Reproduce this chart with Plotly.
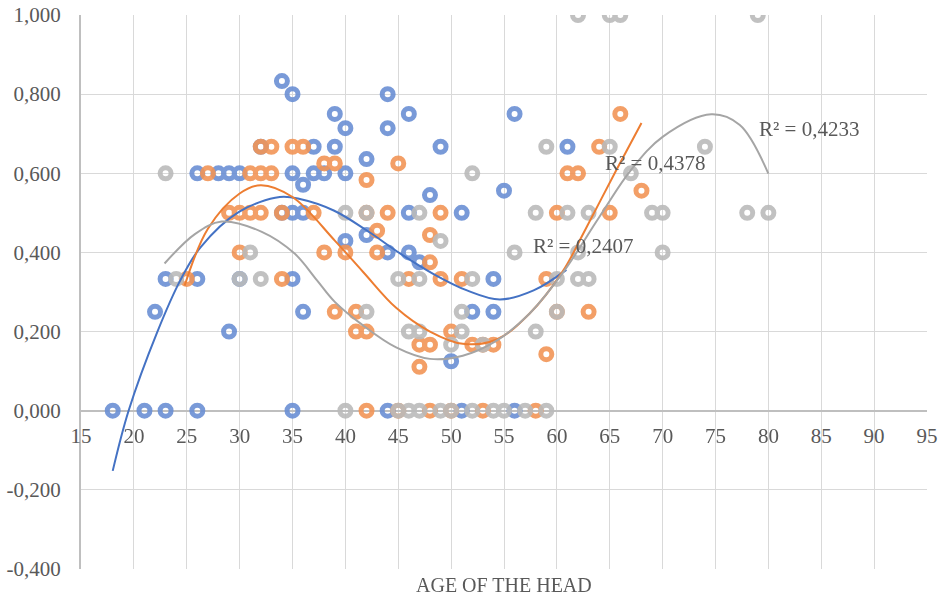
import plotly.graph_objects as go

# scatter data: age of the head vs share
blue_x = [18, 21, 23, 26, 35, 44, 51, 56,
          22, 29, 36, 52, 54, 50,
          23, 26, 30, 35, 54,
          40, 42, 44, 46, 47, 48, 55,
          34, 35, 36, 46, 51,
          36,
          26, 28, 29, 30, 35, 37, 38, 40,
          42,
          32, 37, 39, 49, 61,
          40, 44,
          39, 46, 56,
          35, 44,
          34]
blue_y = [0, 0, 0, 0, 0, 0, 0, 0,
          0.25, 0.2, 0.25, 0.25, 0.25, 0.125,
          0.333, 0.333, 0.333, 0.333, 0.333,
          0.429, 0.444, 0.4, 0.4, 0.375, 0.545, 0.556,
          0.5, 0.5, 0.5, 0.5, 0.5,
          0.571,
          0.6, 0.6, 0.6, 0.6, 0.6, 0.6, 0.6, 0.6,
          0.636,
          0.667, 0.667, 0.667, 0.667, 0.667,
          0.714, 0.714,
          0.75, 0.75, 0.75,
          0.8, 0.8,
          0.833]

orange_x = [42, 45, 48, 50, 53, 58,
            47, 59,
            47, 48, 52, 53, 54,
            41, 42, 50,
            39, 41, 60, 63,
            25, 34, 46, 49, 51, 59,
            48,
            30, 38, 40, 43,
            48, 43,
            29, 30, 31, 32, 34, 37, 42, 44, 49, 60, 65,
            68, 42,
            27, 31, 32, 33, 61, 62,
            38, 39, 45,
            32, 33, 35, 36, 64,
            66]
orange_y = [0, 0, 0, 0, 0, 0,
            0.111, 0.143,
            0.167, 0.167, 0.167, 0.167, 0.167,
            0.2, 0.2, 0.2,
            0.25, 0.25, 0.25, 0.25,
            0.333, 0.333, 0.333, 0.333, 0.333, 0.333,
            0.375,
            0.4, 0.4, 0.4, 0.4,
            0.444, 0.455,
            0.5, 0.5, 0.5, 0.5, 0.5, 0.5, 0.5, 0.5, 0.5, 0.5, 0.5,
            0.556, 0.583,
            0.6, 0.6, 0.6, 0.6, 0.6, 0.6,
            0.625, 0.625, 0.625,
            0.667, 0.667, 0.667, 0.667, 0.667,
            0.75]

gray_x = [40, 45, 46, 47, 49, 50, 52, 54, 55, 57, 59,
          50, 53,
          46, 47, 51, 58,
          42, 51, 60,
          24, 30, 32, 45, 47, 52, 60, 62, 63,
          31, 56, 62, 70,
          49,
          40, 42, 47, 58, 61, 63, 69, 70, 78, 80,
          23, 52, 67,
          59, 65, 74,
          62, 65, 66, 79]
gray_y = [0, 0, 0, 0, 0, 0, 0, 0, 0, 0, 0,
          0.167, 0.167,
          0.2, 0.2, 0.2, 0.2,
          0.25, 0.25, 0.25,
          0.333, 0.333, 0.333, 0.333, 0.333, 0.333, 0.333, 0.333, 0.333,
          0.4, 0.4, 0.4, 0.4,
          0.429,
          0.5, 0.5, 0.5, 0.5, 0.5, 0.5, 0.5, 0.5, 0.5, 0.5,
          0.6, 0.6, 0.6,
          0.667, 0.667, 0.667,
          1, 1, 1, 1]

# polynomial trendlines, points
blue_trend_x = [18, 19.5, 22.2, 24.4, 26.3, 29.9, 33.8, 35.7, 38.9, 42, 45.2, 48.3, 51.5, 54.6, 57.8, 60.9]
blue_trend_y = [-0.152, 0, 0.198, 0.33, 0.413, 0.502, 0.54, 0.535, 0.506, 0.456, 0.397, 0.346, 0.304, 0.281, 0.304, 0.356]

orange_trend_x = [24.8, 27, 30, 32, 35, 39, 41.7, 44.8, 48, 51.1, 54.3, 57.4, 60.6, 62.5, 65.6, 68]
orange_trend_y = [0.316, 0.46, 0.549, 0.57, 0.54, 0.43, 0.35, 0.26, 0.2, 0.169, 0.18, 0.245, 0.354, 0.448, 0.607, 0.727]

gray_trend_x = [22.9, 25.8, 28.3, 32.1, 35.2, 37.3, 39, 41.7, 44.8, 48, 51.1, 54.3, 57.4, 60.6, 64, 67, 70, 74.6, 77.3, 80]
gray_trend_y = [0.372, 0.447, 0.478, 0.452, 0.397, 0.33, 0.275, 0.215, 0.16, 0.131, 0.139, 0.177, 0.245, 0.35, 0.489, 0.608, 0.692, 0.749, 0.722, 0.599]

r2_labels = ["R² = 0,2407", "R² = 0,4378", "R² = 0,4233"]
r2_x = [62.45, 69.25, 83.86]
r2_y = [0.415, 0.625, 0.711]

y_ticks = [-0.4, -0.2, 0, 0.2, 0.4, 0.6, 0.8, 1.0]
y_ticktext = ["-0,400", "-0,200", "0,000", "0,200", "0,400", "0,600", "0,800", "1,000"]

FONT = "Liberation Serif"
TXT = "#595959"

series = [
    (blue_x, blue_y, "#6a8fd4"),
    (orange_x, orange_y, "#f29556"),
    (gray_x, gray_y, "#bababa"),
]
trends = [
    (blue_trend_x, blue_trend_y, "#4472C4"),
    (orange_trend_x, orange_trend_y, "#ED7D31"),
    (gray_trend_x, gray_trend_y, "#A5A5A5"),
]

fig = go.Figure()
for xs, ys, col in series:
    fig.add_trace(go.Scatter(
        x=xs, y=ys, mode="markers",
        marker=dict(symbol="circle-open", size=11, color=col, line=dict(width=5, color=col)),
        opacity=0.9, showlegend=False, hoverinfo="skip"))

for xs, ys, col in trends:
    fig.add_trace(go.Scatter(
        x=xs, y=ys, mode="lines", line=dict(color=col, width=2, shape="spline"),
        showlegend=False, hoverinfo="skip"))

for t, x, y in zip(r2_labels, r2_x, r2_y):
    fig.add_annotation(x=x, y=y, text=t, showarrow=False,
                       font=dict(family=FONT, size=21, color=TXT))

fig.add_annotation(x=0.5, y=-0.029, xref="paper", yref="paper", text="AGE OF THE HEAD",
                   showarrow=False, yanchor="middle",
                   font=dict(family=FONT, size=20, color=TXT))

fig.update_layout(
    width=939, height=599,
    margin=dict(l=81, r=12, t=15, b=30),
    plot_bgcolor="white", paper_bgcolor="white",
    showlegend=False,
    xaxis=dict(
        range=[15, 95], dtick=5, tick0=15, automargin=False,
        anchor="free", position=(0 - (-0.4)) / 1.4,
        showgrid=True, gridcolor="#d9d9d9", gridwidth=1,
        showline=False, zeroline=False,
        ticks="", ticklabelstandoff=10,
        tickfont=dict(family=FONT, size=21, color=TXT),
    ),
    yaxis=dict(
        range=[-0.4, 1.0], tickvals=y_ticks, ticktext=y_ticktext, automargin=False,
        showgrid=True, gridcolor="#d9d9d9", gridwidth=1,
        zeroline=True, zerolinecolor="#bfbfbf", zerolinewidth=2,
        showline=True, linecolor="#bfbfbf", linewidth=2,
        ticks="", ticklabelstandoff=14,
        tickfont=dict(family=FONT, size=21, color=TXT),
    ),
)

# drop the default page margin so the chart sits at the window's corner
fig.write_html("out.html", config={"displayModeBar": False},
               post_script="document.body.style.margin='0px';")
